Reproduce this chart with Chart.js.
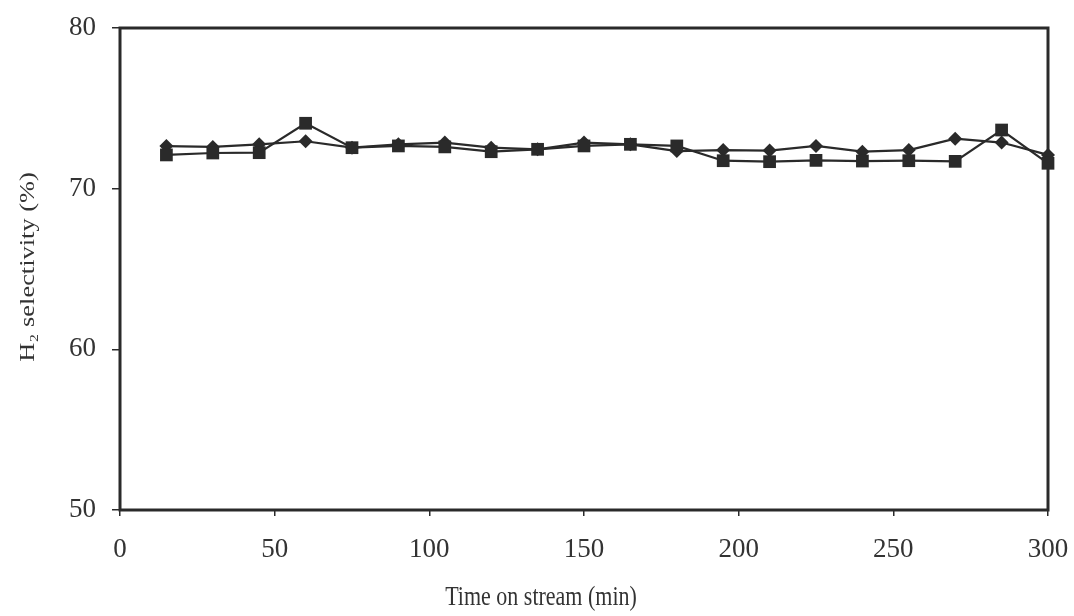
<!DOCTYPE html>
<html>
<head>
<meta charset="utf-8">
<script src="https://cdn.jsdelivr.net/npm/chart.js@4/dist/chart.umd.min.js"></script>
<style>
  html, body { margin: 0; padding: 0; background: #ffffff; }
  #wrap { width: 1074px; height: 616px; }
</style>
</head>
<body>
<div id="wrap"><canvas id="chart" width="1074" height="616"></canvas></div>
<script>
// Time on stream (min)
const timeMin = [15, 30, 45, 60, 75, 90, 105, 120, 135, 150, 165, 180, 195, 210, 225, 240, 255, 270, 285, 300];
// H2 selectivity (%) for the two runs
const selectivityDiamond = [72.65, 72.6, 72.76, 72.95, 72.55, 72.76, 72.87, 72.55, 72.45, 72.87, 72.76, 72.34, 72.4, 72.37, 72.66, 72.3, 72.4, 73.11, 72.87, 72.1];
const selectivitySquare  = [72.1, 72.22, 72.24, 74.07, 72.55, 72.66, 72.6, 72.3, 72.45, 72.66, 72.76, 72.66, 71.74, 71.68, 71.76, 71.72, 71.74, 71.7, 73.65, 71.58];
// Axis ranges / tick steps
const xRange = [0, 300];
const xStep = 50;
const yRange = [50, 80];
const yStep = 10;
// Axis titles
const xTitle = 'Time on stream (min)';
const yTitle = 'H\u2082 selectivity (%)';

const ink = '#2a2a2a';
const serif = '"Liberation Serif", "DejaVu Serif", serif';

const toPoints = (xs, ys) => xs.map((x, i) => ({ x: x, y: ys[i] }));

// Heavy box around the plotting area
const framePlugin = {
  id: 'frame',
  beforeDatasetsDraw(chart) {
    const a = chart.chartArea;
    const ctx = chart.ctx;
    ctx.save();
    ctx.strokeStyle = ink;
    ctx.lineWidth = 3;
    ctx.strokeRect(a.left, a.top, a.right - a.left, a.bottom - a.top);
    ctx.restore();
  }
};

// Axis titles (slightly tall serif lettering)
const titlesPlugin = {
  id: 'axisTitles',
  afterDraw(chart) {
    const ctx = chart.ctx;
    ctx.save();
    ctx.fillStyle = '#333333';
    ctx.font = '22px ' + serif;
    ctx.textAlign = 'center';
    ctx.textBaseline = 'middle';

    ctx.save();
    ctx.translate(541, 598);
    ctx.scale(1, 1.22);
    ctx.fillText(xTitle, 0, 0);
    ctx.restore();

    ctx.translate(28, 267);
    ctx.rotate(-Math.PI / 2);
    ctx.scale(1.2, 1);
    ctx.fillText(yTitle, 0, 0);
    ctx.restore();
  }
};

new Chart(document.getElementById('chart'), {
  type: 'line',
  data: {
    datasets: [
      {
        label: 'Run A',
        data: toPoints(timeMin, selectivityDiamond),
        borderColor: ink,
        backgroundColor: ink,
        borderWidth: 2.2,
        pointStyle: 'rectRot',
        pointRadius: 7,
        pointBorderWidth: 0,
        tension: 0,
        clip: false,
        order: 1
      },
      {
        label: 'Run B',
        data: toPoints(timeMin, selectivitySquare),
        borderColor: ink,
        backgroundColor: ink,
        borderWidth: 2.2,
        pointStyle: 'rect',
        pointRadius: 9,
        pointBorderWidth: 0,
        tension: 0,
        clip: false,
        order: 0
      }
    ]
  },
  options: {
    responsive: false,
    devicePixelRatio: 1,
    animation: false,
    layout: { padding: { top: 28, right: 26, bottom: 0, left: 0 } },
    plugins: {
      legend: { display: false },
      tooltip: { enabled: false }
    },
    scales: {
      x: {
        type: 'linear',
        min: xRange[0],
        max: xRange[1],
        border: { display: false },
        grid: { drawOnChartArea: false, drawTicks: true, tickLength: 6, color: ink, lineWidth: 1.5 },
        ticks: { stepSize: xStep, padding: 18, color: '#333333', font: { family: serif, size: 27 } },
        afterFit(scale) {
          scale.height = 106;
          scale.paddingLeft = 0;
          scale.paddingRight = 0;
        }
      },
      y: {
        min: yRange[0],
        max: yRange[1],
        border: { display: false },
        grid: { drawOnChartArea: false, drawTicks: true, tickLength: 8, color: ink, lineWidth: 1.5 },
        ticks: { stepSize: yStep, padding: 16, color: '#333333', font: { family: serif, size: 27 } },
        afterFit(scale) {
          scale.width = 120;
          scale.paddingTop = 0;
          scale.paddingBottom = 0;
        }
      }
    }
  },
  plugins: [framePlugin, titlesPlugin]
});
</script>
</body>
</html>
